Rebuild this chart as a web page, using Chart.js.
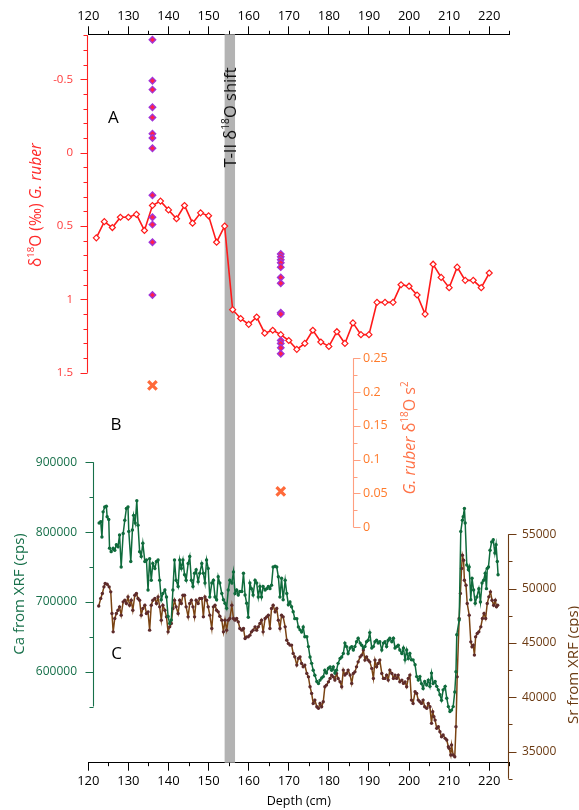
<!DOCTYPE html>
<html>
<head>
<meta charset="utf-8">
<script src="https://cdn.jsdelivr.net/npm/chart.js@4.4.1/dist/chart.umd.min.js"></script>
<style>
  html, body { margin: 0; padding: 0; background: #ffffff; }
  #wrap { width: 579px; height: 810px; position: relative; }
</style>
</head>
<body>
<div id="wrap"><canvas id="c"></canvas></div>
<script>
// ---- Depth axis ----
const depthTicks = [120, 130, 140, 150, 160, 170, 180, 190, 200, 210, 220];
const depthMin = 120, depthMax = 225;

// ---- (A) G. ruber d18O record ----
const depthO = [122, 124, 126, 128, 130, 132, 134, 136, 138, 140, 142, 144, 146, 148, 150, 152, 154,
  156, 158, 160, 162, 164, 166, 168, 170, 172, 174, 176, 178, 180, 182, 184, 186, 188, 190,
  192, 194, 196, 198, 200, 202, 204, 206, 208, 210, 212, 214, 216, 218, 220];
const d18O = [0.58, 0.47, 0.51, 0.44, 0.44, 0.42, 0.53, 0.36, 0.33, 0.39, 0.45, 0.36, 0.48, 0.41, 0.43, 0.61, 0.50,
  1.07, 1.13, 1.17, 1.12, 1.23, 1.21, 1.24, 1.28, 1.34, 1.30, 1.21, 1.29, 1.32, 1.22, 1.30, 1.16, 1.24, 1.24,
  1.02, 1.02, 1.02, 0.90, 0.91, 0.97, 1.10, 0.76, 0.85, 0.92, 0.78, 0.87, 0.87, 0.92, 0.82];
const d18OTicks = [-0.5, 0, 0.5, 1, 1.5];

// single-shell replicates
const replicateDepths = [136, 168];
const replicates136 = [-0.77, -0.49, -0.43, -0.31, -0.24, -0.13, -0.10, -0.03, 0.29, 0.44, 0.49, 0.61, 0.97];
const replicates168 = [0.69, 0.71, 0.73, 0.75, 0.78, 0.85, 0.89, 1.09, 1.10, 1.28, 1.30, 1.33, 1.37];

// ---- (B) replicate variance ----
const varDepth = [136, 168];
const varValue = [0.21, 0.053];
const varTicks = [0, 0.05, 0.1, 0.15, 0.2, 0.25];

// ---- (C) XRF core scanning ----
const caDepth = [122.7, 123.1, 123.4, 123.7, 124.1, 124.5, 124.7, 125.1, 125.3, 125.7, 126.2, 126.6, 127.0, 127.4, 127.8,
  128.2, 128.7, 129.1, 129.5, 129.9, 130.1, 130.6, 131.0, 131.3, 131.7, 132.1, 132.4, 132.8, 133.2, 133.6, 134.1, 134.5,
  134.9, 135.3, 135.7, 136.1, 136.6, 137.0, 137.4, 137.8, 138.2, 138.6, 139.1, 139.5, 139.9, 140.3, 140.7, 141.1, 141.5,
  141.9, 142.4, 142.8, 143.2, 143.6, 144.0, 144.4, 144.9, 145.3, 145.7, 146.1, 146.5, 146.9, 147.4, 147.8, 148.3, 148.7,
  149.1, 149.5, 149.9, 150.3, 150.8, 151.2, 151.6, 152.0, 152.4, 152.8, 153.3, 153.7, 154.1, 154.5, 154.9, 155.3, 155.8,
  156.2, 156.6, 157.0, 157.4, 157.8, 158.3, 158.7, 159.1, 159.5, 159.9, 160.3, 160.7, 161.1, 161.6, 162.0, 162.4, 162.8,
  163.2, 163.6, 164.1, 164.5, 164.9, 165.3, 165.7, 166.1, 166.6, 167.0, 167.4, 167.8, 168.2, 168.6, 169.1, 169.5, 169.9,
  170.3, 170.7, 171.1, 171.5, 172.0, 172.4, 172.8, 173.2, 173.6, 174.0, 174.5, 174.9, 175.3, 175.7, 176.1, 176.5, 177.0,
  177.4, 177.8, 178.2, 178.6, 179.0, 179.4, 179.9, 180.3, 180.7, 181.1, 181.5, 181.9, 182.3, 182.8, 183.2, 183.6, 184.0,
  184.4, 184.8, 185.3, 185.7, 186.1, 186.5, 186.9, 187.3, 187.8, 188.2, 188.6, 189.0, 189.4, 189.8, 190.2, 190.7, 191.1,
  191.5, 191.9, 192.3, 192.7, 193.2, 193.6, 194.0, 194.4, 194.8, 195.2, 195.7, 196.1, 196.5, 196.9, 197.3, 197.7, 198.2,
  198.6, 199.0, 199.4, 199.8, 200.2, 200.6, 201.0, 201.5, 201.9, 202.3, 202.7, 203.1, 203.5, 203.9, 204.4, 204.8, 205.2,
  205.6, 206.0, 206.5, 206.9, 207.3, 207.7, 208.1, 208.5, 209.0, 209.4, 209.8, 210.2, 210.6, 211.0, 211.4, 211.7, 211.9,
  212.5, 212.9, 213.3, 213.5, 213.8, 214.0, 214.4, 214.8, 215.0, 215.4, 215.7, 216.1, 216.5, 216.9, 217.4, 217.8, 218.2,
  218.6, 219.0, 219.3, 219.5, 219.8, 220.2, 220.6, 221.0, 221.4, 221.7, 222.0, 222.2];
const caCps = [813000, 815000, 793000, 829000, 836000, 837000, 822000, 818000, 777000, 772000, 777000, 774000, 782000, 779000, 796000,
  750000, 798000, 817000, 834000, 836000, 801000, 758000, 803000, 824000, 813000, 845000, 810000, 772000, 765000, 784000, 758000, 760000,
  717000, 762000, 731000, 755000, 748000, 758000, 760000, 731000, 703000, 712000, 717000, 707000, 679000, 669000, 674000, 717000, 760000,
  731000, 722000, 760000, 748000, 760000, 739000, 731000, 755000, 765000, 731000, 722000, 741000, 746000, 729000, 741000, 755000, 741000,
  727000, 760000, 748000, 707000, 727000, 731000, 707000, 703000, 736000, 727000, 712000, 703000, 698000, 691000, 717000, 731000, 727000,
  743000, 712000, 717000, 710000, 715000, 715000, 741000, 710000, 698000, 678000, 727000, 719000, 710000, 731000, 727000, 707000, 722000,
  707000, 722000, 717000, 719000, 722000, 719000, 724000, 750000, 751000, 750000, 736000, 707000, 734000, 703000, 731000, 712000, 696000,
  700000, 693000, 686000, 676000, 676000, 664000, 660000, 657000, 664000, 650000, 650000, 636000, 621000, 612000, 602000, 595000, 586000,
  583000, 588000, 591000, 593000, 602000, 598000, 605000, 607000, 602000, 607000, 598000, 602000, 612000, 619000, 621000, 626000, 641000,
  636000, 626000, 634000, 636000, 631000, 636000, 643000, 648000, 641000, 638000, 634000, 636000, 643000, 645000, 656000, 634000, 636000,
  643000, 645000, 641000, 643000, 631000, 641000, 643000, 636000, 645000, 648000, 643000, 648000, 634000, 636000, 638000, 631000, 626000,
  634000, 617000, 631000, 619000, 626000, 617000, 617000, 610000, 593000, 588000, 593000, 583000, 576000, 586000, 581000, 588000, 579000,
  598000, 583000, 586000, 579000, 574000, 567000, 559000, 574000, 579000, 562000, 550000, 543000, 545000, 550000, 571000, 600000, 653000,
  674000, 801000, 817000, 822000, 834000, 813000, 753000, 746000, 750000, 703000, 734000, 717000, 698000, 707000, 719000, 700000, 727000,
  731000, 741000, 719000, 748000, 750000, 774000, 786000, 789000, 770000, 782000, 758000, 739000];
const caTicks = [600000, 700000, 800000, 900000];

const srDepth = [122.6, 123.1, 123.5, 123.9, 124.2, 124.7, 125.2, 125.6, 125.9, 126.2, 126.6, 127.0, 127.4, 127.8, 128.2,
  128.7, 129.1, 129.5, 129.9, 130.3, 130.7, 131.1, 131.6, 132.0, 132.4, 132.8, 133.2, 133.6, 134.1, 134.5, 134.9, 135.3,
  135.7, 136.1, 136.6, 137.0, 137.4, 137.8, 138.2, 138.6, 139.1, 139.5, 139.9, 140.3, 140.7, 141.1, 141.5, 141.9, 142.4,
  142.8, 143.2, 143.6, 144.0, 144.4, 144.9, 145.3, 145.7, 146.1, 146.5, 146.9, 147.4, 147.8, 148.3, 148.7, 149.1, 149.5,
  149.9, 150.3, 150.8, 151.2, 151.6, 152.0, 152.4, 152.8, 153.3, 153.7, 154.1, 154.5, 154.9, 155.3, 155.8, 156.2, 156.6,
  157.0, 157.4, 157.8, 158.3, 158.7, 159.1, 159.5, 159.9, 160.3, 160.7, 161.1, 161.6, 162.0, 162.4, 162.8, 163.2, 163.6,
  164.1, 164.5, 164.9, 165.3, 165.7, 166.1, 166.6, 167.0, 167.4, 167.8, 168.2, 168.6, 169.1, 169.5, 169.9, 170.3, 170.7,
  171.1, 171.5, 172.0, 172.4, 172.8, 173.2, 173.6, 174.0, 174.5, 174.9, 175.3, 175.7, 176.1, 176.5, 177.0, 177.4, 177.8,
  178.2, 178.6, 179.0, 179.4, 179.9, 180.3, 180.7, 181.1, 181.5, 181.9, 182.3, 182.8, 183.2, 183.6, 184.0, 184.4, 184.8,
  185.3, 185.7, 186.1, 186.5, 186.9, 187.3, 187.8, 188.2, 188.6, 189.0, 189.4, 189.8, 190.2, 190.7, 191.1, 191.5, 191.9,
  192.3, 192.7, 193.2, 193.6, 194.0, 194.4, 194.8, 195.2, 195.7, 196.1, 196.5, 196.9, 197.3, 197.7, 198.2, 198.6, 199.0,
  199.4, 199.8, 200.2, 200.6, 201.0, 201.5, 201.9, 202.3, 202.7, 203.1, 203.5, 203.9, 204.4, 204.8, 205.2, 205.6, 205.9,
  206.2, 206.5, 206.9, 207.3, 207.7, 208.1, 208.5, 209.0, 209.4, 209.8, 210.0, 210.4, 210.6, 211.0, 211.4, 211.7, 212.0,
  212.5, 212.8, 213.1, 213.3, 213.6, 213.8, 214.2, 214.5, 215.0, 215.4, 215.7, 216.0, 216.3, 216.6, 217.0, 217.4, 217.9,
  218.3, 218.7, 219.1, 219.5, 219.9, 220.3, 220.7, 221.1, 221.5, 221.8, 222.1];
const srCps = [48400, 49100, 49550, 50160, 50470, 50400, 50160, 49700, 47710, 46020, 47250, 47710, 48010, 48320, 47560,
  48780, 48930, 48630, 49240, 48470, 48930, 48010, 49390, 49550, 49090, 48930, 47560, 48170, 48470, 47710, 47860, 46180,
  48470, 48930, 49090, 48630, 49240, 48320, 47100, 48470, 48010, 47400, 46020, 46480, 46790, 48170, 48930, 48320, 47710,
  48930, 48630, 49390, 49390, 48320, 47400, 48630, 48930, 48320, 47400, 48930, 48630, 49090, 49090, 47400, 49240, 48930,
  48320, 47560, 46330, 48320, 48470, 48010, 47860, 47460, 47100, 46020, 47100, 46180, 47100, 47250, 48470, 47250, 47100,
  47250, 46940, 46330, 46180, 46330, 45410, 45560, 45560, 45720, 46020, 46180, 46480, 46180, 46480, 46790, 47100, 46020,
  47250, 47400, 47560, 46330, 48170, 48470, 47860, 48170, 47100, 46330, 47560, 47400, 46480, 45260, 44950, 44800, 44800,
  44040, 43720, 42960, 43580, 43720, 43120, 42800, 42960, 42200, 41880, 40970, 40360, 39440, 39740, 39130, 38980, 39440,
  39130, 39590, 40970, 41120, 41420, 41740, 42040, 41880, 41580, 42200, 41740, 41420, 40970, 42500, 42040, 42200, 42500,
  42040, 41280, 42200, 42340, 42800, 43260, 43720, 43880, 44340, 43420, 43720, 43420, 43260, 42660, 41740, 43420, 42800,
  43120, 43420, 42200, 41740, 41740, 42040, 41580, 42500, 42200, 41740, 42040, 41740, 42040, 41420, 41580, 41280, 41420,
  40970, 41740, 42040, 39740, 39440, 40510, 40360, 39740, 39590, 39440, 39740, 39130, 38980, 39440, 39130, 37600, 38670,
  38210, 37900, 37140, 37290, 36830, 36370, 36530, 36220, 36070, 35450, 35300, 34690, 35610, 34690, 34530, 37290, 41880,
  47250, 49550, 51850, 53070, 52610, 50770, 50310, 48630, 47560, 45100, 44640, 44800, 43880, 45560, 45870, 46020, 46480,
  47250, 47710, 47250, 48630, 49240, 49700, 48930, 48470, 48930, 48320, 48470];
const srTicks = [35000, 40000, 45000, 50000, 55000];

// Termination II shift interval (depth, cm)
const shiftBand = [154.0, 156.6];

const FAMILY = '"Open Sans", "Noto Sans", sans-serif';

// Each y scale only covers a slice of the plot height: value `lo`..`hi`
// sits between the given top/bottom fractions of the chart area.
function panelRange(lo, hi, fTop, fBot, reverse) {
  const span = (hi - lo) / (fBot - fTop);
  return reverse
    ? { min: lo - fTop * span, max: hi + (1 - fBot) * span }
    : { min: lo - (1 - fBot) * span, max: hi + fTop * span };
}

const panels = {
  yO:  { lo: -0.8,   hi: 1.5,    fTop: 0.0014, fBot: 0.4647, reverse: true },
  yV:  { lo: 0,      hi: 0.25,   fTop: 0.4448, fBot: 0.6768, reverse: false },
  yCa: { lo: 550000, hi: 900000, fTop: 0.5876, fBot: 0.9230, reverse: false },
  ySr: { lo: 32500,  hi: 55000,  fTop: 0.6864, fBot: 1.0221, reverse: false }
};

function yScale(id) {
  const p = panels[id];
  const r = panelRange(p.lo, p.hi, p.fTop, p.fBot, p.reverse);
  return { type: 'linear', display: false, reverse: p.reverse, min: r.min, max: r.max };
}

// Partial-height axes drawn against the chart's own scales
const axisSpecs = [
  { id: 'yO', at: 119.75, ticks: d18OTicks, minor: 0.1, side: 'left', line: '#ff2020',
    label: '#ff3a3a', size: 11.5, majorLen: 7, minorLen: 4, gap: 7.5 },
  { id: 'yV', at: 186.1, ticks: varTicks, minor: 0.025, side: 'right', line: '#ff9f80',
    label: '#ff7b2c', size: 12.5, majorLen: 7, minorLen: 4, gap: 2.5 },
  { id: 'yCa', at: 121.25, ticks: caTicks, minor: 50000, side: 'left', line: '#17704a',
    label: '#17704a', size: 12, majorLen: 8, minorLen: 4, gap: 8.5 },
  { id: 'ySr', at: 224.75, ticks: srTicks, minor: 2500, side: 'right', line: '#6b3a12',
    label: '#6b3a12', size: 12, majorLen: 8, minorLen: 4, gap: 5.5 }
];

function drawRuns(ctx, runs, cx, cy, size, color, rotated) {
  ctx.save();
  ctx.translate(cx, cy);
  if (rotated) ctx.rotate(-Math.PI / 2);
  ctx.fillStyle = color;
  ctx.textBaseline = 'alphabetic';
  ctx.textAlign = 'left';
  const fontOf = r => (r.it ? 'italic ' : '') + (r.sup ? size * 0.62 : size) + 'px ' + FAMILY;
  const widths = runs.map(r => { ctx.font = fontOf(r); return ctx.measureText(r.t).width; });
  let x = -widths.reduce((a, b) => a + b, 0) / 2;
  const base = size * 0.36;
  runs.forEach((r, i) => {
    ctx.font = fontOf(r);
    ctx.fillText(r.t, x, r.sup ? base - size * 0.4 : base);
    x += widths[i];
  });
  ctx.restore();
}

const labels = [
  { runs: [{ t: 'δ' }, { t: '18', sup: true }, { t: 'O (‰) ' }, { t: 'G. ruber', it: true }],
    x: 35, y: 205, size: 15.5, color: '#ff2a2a', rot: true },
  { runs: [{ t: 'G. ruber', it: true }, { t: ' δ' }, { t: '18', sup: true }, { t: 'O s' }, { t: '2', sup: true }],
    x: 409, y: 438, size: 16, color: '#ff7348', rot: true },
  { runs: [{ t: 'Ca from XRF (cps)' }], x: 18.5, y: 594, size: 15, color: '#17704a', rot: true },
  { runs: [{ t: 'Sr from XRF (cps)' }], x: 573, y: 665, size: 15, color: '#6b3a12', rot: true },
  { runs: [{ t: 'T-II δ' }, { t: '18', sup: true }, { t: 'O shift' }], x: null, y: 117.5, size: 16.5, color: '#111111', rot: true },
  { runs: [{ t: 'A' }], x: 113.3, y: 117.3, size: 17, color: '#000000', rot: false },
  { runs: [{ t: 'B' }], x: 116, y: 424, size: 17, color: '#000000', rot: false },
  { runs: [{ t: 'C' }], x: 116.7, y: 653, size: 17, color: '#000000', rot: false }
];

const decorPlugin = {
  id: 'decor',
  beforeDatasetsDraw(chart) {
    const { ctx, chartArea, scales } = chart;
    const x0 = scales.x.getPixelForValue(shiftBand[0]);
    const x1 = scales.x.getPixelForValue(shiftBand[1]);
    ctx.save();
    ctx.fillStyle = '#b3b3b3';
    ctx.fillRect(x0, chartArea.top, x1 - x0, chartArea.bottom - chartArea.top);
    ctx.restore();
  },
  afterDraw(chart) {
    const { ctx, chartArea, scales } = chart;
    ctx.save();
    // minor depth ticks on both horizontal axes
    ctx.strokeStyle = '#000';
    ctx.lineWidth = 1;
    for (let v = depthMin + 5; v <= depthMax; v += 10) {
      const px = Math.round(scales.x.getPixelForValue(v)) + 0.5;
      ctx.beginPath();
      ctx.moveTo(px, chartArea.top); ctx.lineTo(px, chartArea.top - 3.5);
      ctx.moveTo(px, chartArea.bottom); ctx.lineTo(px, chartArea.bottom + 3.5);
      ctx.stroke();
    }
    // vertical axes
    axisSpecs.forEach(a => {
      const s = scales[a.id];
      const p = panels[a.id];
      const ax = Math.round(scales.x.getPixelForValue(a.at)) + 0.5;
      const dir = a.side === 'left' ? -1 : 1;
      ctx.strokeStyle = a.line;
      ctx.lineWidth = 1.1;
      ctx.beginPath();
      ctx.moveTo(ax, s.getPixelForValue(p.lo));
      ctx.lineTo(ax, s.getPixelForValue(p.hi));
      const n = Math.round((p.hi - p.lo) / a.minor);
      for (let i = 0; i <= n; i++) {
        const v = p.lo + i * a.minor;
        const py = Math.round(s.getPixelForValue(v)) + 0.5;
        const major = a.ticks.some(t => Math.abs(t - v) < a.minor / 10);
        ctx.moveTo(ax, py);
        ctx.lineTo(ax + dir * (major ? a.majorLen : a.minorLen), py);
      }
      ctx.stroke();
      ctx.fillStyle = a.label;
      ctx.font = a.size + 'px ' + FAMILY;
      ctx.textBaseline = 'middle';
      ctx.textAlign = a.side === 'left' ? 'right' : 'left';
      a.ticks.forEach(t => {
        ctx.fillText(String(t), ax + dir * (a.majorLen + a.gap), s.getPixelForValue(t));
      });
    });
    ctx.restore();
    // titles and panel letters
    labels.forEach(l => {
      const cx = l.x === null
        ? (scales.x.getPixelForValue(shiftBand[0]) + scales.x.getPixelForValue(shiftBand[1])) / 2
        : l.x;
      drawRuns(ctx, l.runs, cx, l.y, l.size, l.color, l.rot);
    });
  }
};

const xCommon = {
  type: 'linear', min: depthMin, max: depthMax,
  afterBuildTicks: s => { s.ticks = depthTicks.map(v => ({ value: v })); },
  grid: { drawOnChartArea: false, drawTicks: true, tickLength: 8, color: '#000', tickColor: '#000', lineWidth: 1 },
  border: { display: true, color: '#000', width: 1 },
  ticks: { color: '#000', font: { family: FAMILY, size: 13 }, maxRotation: 0, autoSkip: false }
};

const pts = (xs, ys) => xs.map((x, i) => ({ x: x, y: ys[i] }));

new Chart(document.getElementById('c'), {
  type: 'scatter',
  data: {
    datasets: [
      { label: 'replicates', yAxisID: 'yO',
        data: replicates136.map(v => ({ x: replicateDepths[0], y: v }))
          .concat(replicates168.map(v => ({ x: replicateDepths[1], y: v }))),
        showLine: false, pointStyle: 'rectRot', pointRadius: 3.3,
        pointBackgroundColor: '#ff1f4a', pointBorderColor: '#a035d8', pointBorderWidth: 1.3 },
      { label: 'variance', yAxisID: 'yV', data: pts(varDepth, varValue), showLine: false,
        pointStyle: 'crossRot', pointRadius: 6, pointBorderWidth: 3.2,
        pointBorderColor: '#ff6a3a', pointBackgroundColor: '#ff6a3a' },
      { label: 'd18O', yAxisID: 'yO', data: pts(depthO, d18O), showLine: true,
        borderColor: '#ff1a1a', borderWidth: 1.6, pointStyle: 'rectRot', pointRadius: 3,
        pointBorderColor: '#ff1a1a', pointBackgroundColor: '#ffffff', pointBorderWidth: 1.2 },
      { label: 'Ca', yAxisID: 'yCa', data: pts(caDepth, caCps), showLine: true,
        borderColor: '#0f6b3c', borderWidth: 1.5, pointRadius: 1.7,
        pointBackgroundColor: '#0f6b3c', pointBorderWidth: 0 },
      { label: 'Sr', yAxisID: 'ySr', data: pts(srDepth, srCps), showLine: true,
        borderColor: '#7a4312', borderWidth: 1.5, pointRadius: 1.7,
        pointBackgroundColor: '#5e2b2b', pointBorderWidth: 0 }
    ]
  },
  options: {
    responsive: true, maintainAspectRatio: false, animation: false, events: [],
    layout: { padding: { left: 88.3, right: 69.7, top: 0, bottom: 0 } },
    plugins: { legend: { display: false }, tooltip: { enabled: false } },
    scales: {
      x: Object.assign({}, xCommon, {
        position: 'bottom',
        afterFit: s => { s.height = 47.3; },
        ticks: Object.assign({}, xCommon.ticks, { padding: 3 }),
        title: { display: true, text: 'Depth (cm)', color: '#000',
          font: { family: FAMILY, size: 12.5 }, padding: { top: 0, bottom: 1 } }
      }),
      xTop: Object.assign({}, xCommon, {
        position: 'top',
        afterFit: s => { s.height = 34.3; },
        ticks: Object.assign({}, xCommon.ticks, { padding: 2 })
      }),
      yO: yScale('yO'),
      yV: yScale('yV'),
      yCa: yScale('yCa'),
      ySr: yScale('ySr')
    }
  },
  plugins: [decorPlugin]
});
</script>
</body>
</html>
